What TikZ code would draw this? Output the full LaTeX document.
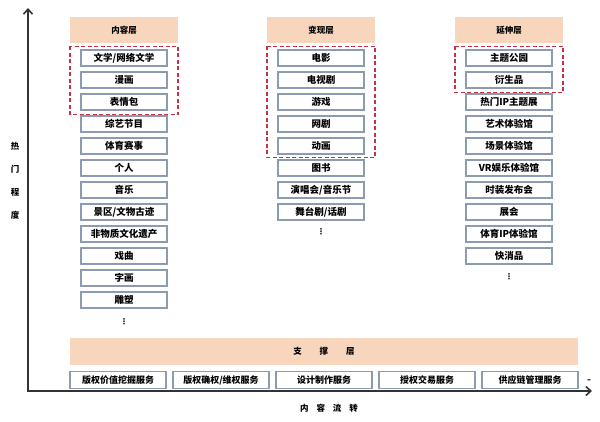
\documentclass[tikz,border=0pt]{standalone}
\usepackage{fontspec}
\setmainfont{Noto Sans CJK SC}
\newfontfamily\symfont{DejaVu Sans}
\usetikzlibrary{arrows.meta}
\definecolor{peach}{RGB}{248,214,190}
\definecolor{hotred}{RGB}{200,50,70}
\definecolor{boxline}{RGB}{140,155,175}

\begin{document}
\begin{tikzpicture}[x=1pt,y=-1pt,
  layer/.style={fill=peach,minimum width=108pt,minimum height=26pt,inner sep=0pt,
    font=\fontsize{8.5}{10}\selectfont\bfseries},
  item/.style={draw=boxline,line width=1.2pt,fill=white,minimum width=86pt,
    minimum height=16pt,inner sep=0pt,font=\fontsize{9.5}{10}\selectfont\bfseries},
  service/.style={item,minimum width=96pt,minimum height=17pt,
    font=\fontsize{9}{10}\selectfont\bfseries},
  hot/.style={draw=hotred,line width=1.6pt,dash pattern=on 4pt off 2.5pt},
  axis/.style={line width=1.6pt,draw=black!80,
    {Straight Barb[length=5pt,width=9pt]}-{Straight Barb[length=5pt,width=9pt]}},
  dots/.style={font=\symfont\fontsize{8}{8}\selectfont\bfseries,inner sep=0pt},
  axlabel/.style={font=\fontsize{8.5}{23}\selectfont\bfseries,align=center}]
\useasboundingbox (0,0) rectangle (600,422);
% axes
\coordinate (o) at (28,391);
\coordinate (ytop) at (28,8);
\coordinate (xend) at (592,391);
\draw[axis] (ytop) -- (o) -- (xend);
\node[axlabel] (ylab) at (15,181) {热\\门\\程\\度};
\node[axlabel] (xlab) at (329,408) {内\hspace{8pt}容\hspace{8pt}流\hspace{8pt}转};
% layers
\node[layer] (h1) at (124,30) {内容层};
\node[layer] (h2) at (321,30) {变现层};
\node[layer] (h3) at (509,30) {延伸层};
% content layer
\foreach \t [count=\i] in {文学/网络文学,漫画,表情包,综艺节目,体育赛事,个人,音乐,
    景区/文物古迹,非物质文化遗产,戏曲,字画,雕塑}
  \node[item] (a\i) at (124,36+22*\i) {\t};
\node[dots] (adots) at (124,322) {⋮};
% monetization layer
\foreach \t [count=\i] in {电影,电视剧,游戏,网剧,动画,图书,演唱会/音乐节,舞台剧/话剧}
  \node[item] (b\i) at (321,36+22*\i) {\t};
\node[dots] (bdots) at (321,232) {⋮};
% extension layer
\foreach \t [count=\i] in {主题公园,衍生品,热门IP主题展,艺术体验馆,场景体验馆,
    VR娱乐体验馆,时装发布会,展会,体育IP体验馆,快消品}
  \node[item] (c\i) at (509,36+22*\i) {\t};
\node[dots] (cdots) at (509,277) {⋮};
% hot spots
\draw[hot] ([yshift=3pt]h1.west |- a1.north) rectangle ([yshift=-4pt]h1.east |- a3.south);
\draw[hot] ([yshift=3pt]h2.west |- b1.north) rectangle ([yshift=-3pt]h2.east |- b5.south);
\draw[hot] ([yshift=3pt]h3.west |- c1.north) rectangle ([yshift=-4pt]h3.east |- c2.south);
% support layer
\node[layer,minimum width=508pt,minimum height=27pt] (base) at (324,351)
  {支\hspace{18pt}撑\hspace{18pt}层};
\foreach \t [count=\i] in {版权价值挖掘服务,版权确权/维权服务,设计制作服务,
    授权交易服务,供应链管理服务}
  \node[service] (s\i) at (15+103*\i,380) {\t};
\node[dots] (tick) at (589,381) {–};
\end{tikzpicture}
\end{document}
